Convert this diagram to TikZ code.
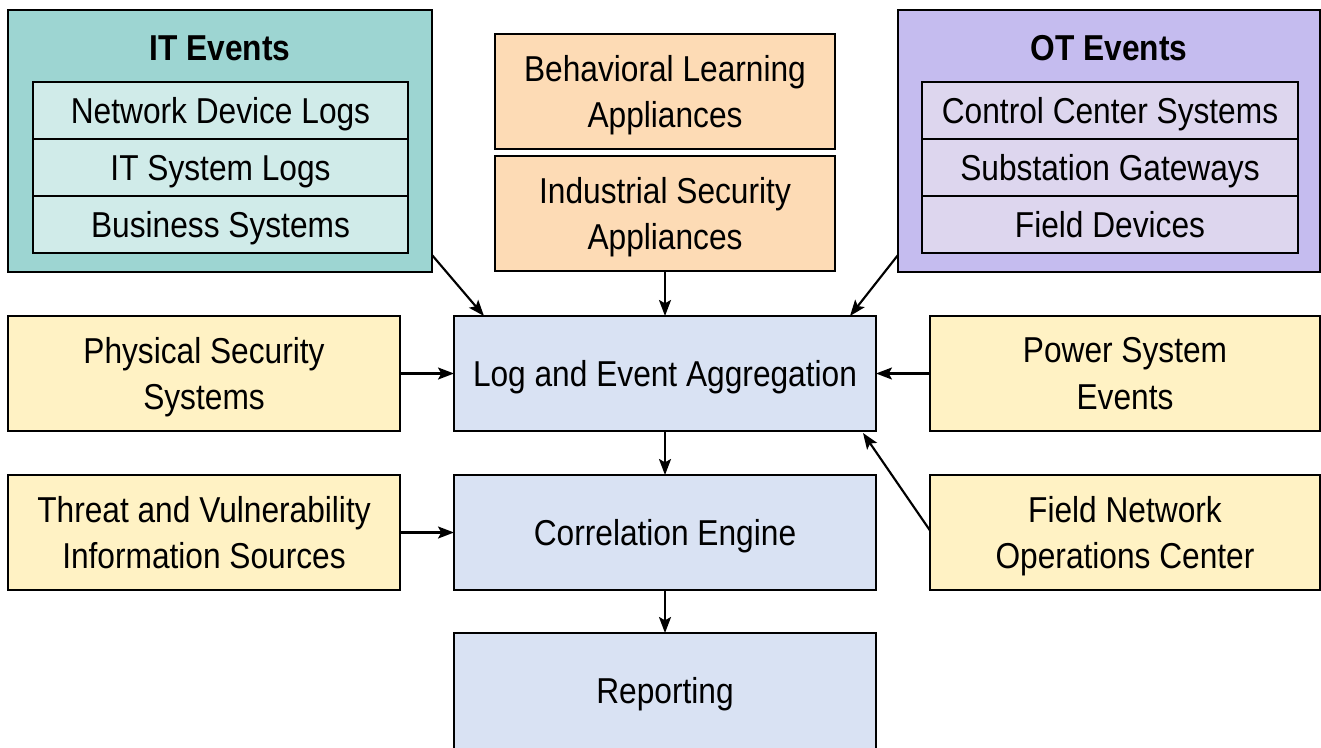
\documentclass[tikz,border=0pt]{standalone}
\usepackage{fontspec}
\setmainfont{Liberation Sans}[FakeStretch=0.88]
\usetikzlibrary{arrows.meta}
\definecolor{itdark}{RGB}{157,213,210}
\definecolor{itlight}{RGB}{208,235,233}
\definecolor{otdark}{RGB}{197,188,239}
\definecolor{otlight}{RGB}{221,214,238}
\definecolor{orangefill}{RGB}{253,219,181}
\definecolor{yellowfill}{RGB}{255,242,196}
\definecolor{bluefill}{RGB}{217,226,243}
\tikzset{
  box/.style 2 args={draw=black, line width=2.2pt, rectangle, inner sep=0pt, outer sep=0pt,
    minimum width=#1*0.75pt, minimum height=#2*0.75pt, align=center, text depth=0pt,
    font=\fontsize{27}{35}\selectfont},
  titletext/.style={font=\fontsize{27}{35}\selectfont\bfseries},
  plaintext/.style={font=\fontsize{27}{35}\selectfont, text depth=0pt},
  arr/.style={draw=black, line width=1.6pt, -{Stealth[length=12pt,width=9pt,inset=2.5pt]}}
}
\begin{document}
\begin{tikzpicture}[x=0.75pt,y=-0.75pt]
\useasboundingbox (0,0) rectangle (1321,747);
\clip (0,0) rectangle (1321,747);
% IT events
\node[box={424}{262}, fill=itdark] (itouter) at (220,141) {};
\node[titletext] (ittitle) at (220,48) {IT Events};
\node[box={375}{57}, fill=itlight] (it1) at (220.5,110.5) {Network Device Logs};
\node[box={375}{57}, fill=itlight] (it2) at (220.5,167.5) {IT System Logs};
\node[box={375}{57}, fill=itlight] (it3) at (220.5,224.5) {Business Systems};
% OT events
\node[box={422}{262}, fill=otdark] (otouter) at (1109,141) {};
\node[titletext] (ottitle) at (1109,48) {OT Events};
\node[box={376}{57}, fill=otlight] (ot1) at (1110,110.5) {Control Center Systems};
\node[box={376}{57}, fill=otlight] (ot2) at (1110,167.5) {Substation Gateways};
\node[box={376}{57}, fill=otlight] (ot3) at (1110,224.5) {Field Devices};
% orange
\node[box={340}{115}, fill=orangefill] (beh) at (665,91.5) {Behavioral Learning\\Appliances};
\node[box={340}{115}, fill=orangefill] (ind) at (665,213.5) {Industrial Security\\Appliances};
% middle row
\node[box={392}{115}, fill=yellowfill] (phys) at (204,373.5) {Physical Security\\Systems};
\node[box={422}{115}, fill=bluefill] (agg) at (665,373.5) {Log and Event Aggregation};
\node[box={390}{115}, fill=yellowfill] (power) at (1125,373.5) {Power System\\Events};
% lower row
\node[box={392}{115}, fill=yellowfill] (threat) at (204,532.5) {Threat and Vulnerability\\Information Sources};
\node[box={422}{115}, fill=bluefill] (corr) at (665,532.5) {Correlation Engine};
\node[box={390}{115}, fill=yellowfill] (field) at (1125,532.5) {Field Network\\Operations Center};
% reporting
\node[box={422}{150}, fill=bluefill] (report) at (665,708) {};
\node[plaintext] (reporttext) at (665,690) {Reporting};
% arrows
\draw[arr] ([yshift=12.75pt]itouter.south east) -- ([xshift=22.5pt]agg.north west);
\draw[arr] ([yshift=12.75pt]otouter.south west) -- ([xshift=-19.5pt]agg.north east);
\draw[arr] (ind.south) -- (agg.north);
\draw[arr] (phys.east) -- (agg.west);
\draw[arr] (power.west) -- (agg.east);
\draw[arr] ([yshift=1.5pt]field.west) -- ([xshift=-9.75pt,yshift=-1.5pt]agg.south east);
\draw[arr] (agg.south) -- (corr.north);
\draw[arr] (threat.east) -- (corr.west);
\draw[arr] (corr.south) -- (report.north);
\end{tikzpicture}
\end{document}
